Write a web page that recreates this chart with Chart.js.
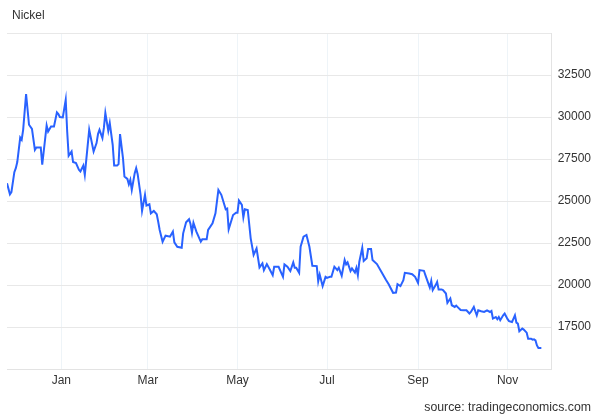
<!DOCTYPE html>
<html>
<head>
<meta charset="utf-8">
<script src="https://cdn.jsdelivr.net/npm/chart.js@4"></script>
<style>
  body { margin: 0; background: #fff; }
  #wrap { position: relative; width: 600px; height: 416px; }
  .txt { position: absolute; font: 12px "Liberation Sans", Arial, sans-serif; color: #333; white-space: nowrap; }
  #title { left: 12px; top: 8px; }
  #source { right: 9px; top: 400px; font-size: 12.3px; }
</style>
</head>
<body>
<div id="wrap">
  <canvas id="chart" width="600" height="416"></canvas>
  <div class="txt" id="title">Nickel</div>
  <div class="txt" id="source">source: tradingeconomics.com</div>
</div>
<script>
// nickel price
var dates = [
  '2022-11-25','2022-11-27','2022-11-28','2022-11-30','2022-12-01','2022-12-02','2022-12-04','2022-12-05','2022-12-06','2022-12-08',
  '2022-12-10','2022-12-12','2022-12-14','2022-12-15','2022-12-18','2022-12-19','2022-12-22','2022-12-23','2022-12-25','2022-12-27',
  '2022-12-29','2022-12-30','2022-12-31','2023-01-02','2023-01-04','2023-01-05','2023-01-06','2023-01-08','2023-01-09','2023-01-11',
  '2023-01-13','2023-01-14','2023-01-16','2023-01-17','2023-01-20','2023-01-23','2023-01-25','2023-01-26','2023-01-27','2023-01-29',
  '2023-01-30','2023-01-31','2023-02-02','2023-02-03','2023-02-05','2023-02-06','2023-02-08','2023-02-09','2023-02-10','2023-02-12',
  '2023-02-13','2023-02-15','2023-02-16','2023-02-17','2023-02-18','2023-02-20','2023-02-21','2023-02-22','2023-02-24','2023-02-25',
  '2023-02-27','2023-02-28','2023-03-02','2023-03-03','2023-03-05','2023-03-07','2023-03-08','2023-03-09','2023-03-11','2023-03-13',
  '2023-03-14','2023-03-16','2023-03-18','2023-03-19','2023-03-21','2023-03-24','2023-03-25','2023-03-27','2023-03-29','2023-03-30',
  '2023-03-31','2023-04-01','2023-04-03','2023-04-06','2023-04-07','2023-04-10','2023-04-11','2023-04-14','2023-04-16','2023-04-18',
  '2023-04-20','2023-04-23','2023-04-24','2023-04-25','2023-04-28','2023-04-30','2023-05-01','2023-05-02','2023-05-04','2023-05-05',
  '2023-05-06','2023-05-08','2023-05-10','2023-05-12','2023-05-14','2023-05-16','2023-05-18','2023-05-19','2023-05-21','2023-05-23',
  '2023-05-25','2023-05-26','2023-05-29','2023-06-01','2023-06-02','2023-06-04','2023-06-06','2023-06-08','2023-06-09','2023-06-10',
  '2023-06-12','2023-06-13','2023-06-15','2023-06-17','2023-06-19','2023-06-21','2023-06-24','2023-06-25','2023-06-26','2023-06-28',
  '2023-06-30','2023-07-01','2023-07-03','2023-07-04','2023-07-06','2023-07-07','2023-07-08','2023-07-09','2023-07-11','2023-07-13',
  '2023-07-14','2023-07-15','2023-07-17','2023-07-18','2023-07-20','2023-07-21','2023-07-22','2023-07-23','2023-07-25','2023-07-26',
  '2023-07-28','2023-07-29','2023-07-31','2023-08-01','2023-08-04','2023-08-07','2023-08-10','2023-08-12','2023-08-15','2023-08-17',
  '2023-08-18','2023-08-20','2023-08-22','2023-08-23','2023-08-26','2023-08-28','2023-08-30','2023-09-01','2023-09-02','2023-09-05',
  '2023-09-06','2023-09-08','2023-09-09','2023-09-10','2023-09-11','2023-09-13','2023-09-14','2023-09-15','2023-09-17','2023-09-18',
  '2023-09-20','2023-09-21','2023-09-23','2023-09-24','2023-09-26','2023-09-27','2023-09-29','2023-09-30','2023-10-02','2023-10-04',
  '2023-10-06','2023-10-07','2023-10-09','2023-10-10','2023-10-11','2023-10-12','2023-10-14','2023-10-16','2023-10-18','2023-10-20',
  '2023-10-21','2023-10-22','2023-10-24','2023-10-25','2023-10-26','2023-10-27','2023-10-29','2023-10-30','2023-11-01','2023-11-02',
  '2023-11-04','2023-11-06','2023-11-07','2023-11-08','2023-11-09','2023-11-11','2023-11-12','2023-11-14','2023-11-15','2023-11-17',
  '2023-11-18','2023-11-19','2023-11-20','2023-11-21','2023-11-22','2023-11-24'
];
var prices = [
  26060,25400,25530,26720,26960,27320,28780,28650,29240,31370,
  29540,29290,28050,28190,28190,27160,29500,29140,29440,29440,
  30280,30180,30000,29980,31030,29140,27690,27950,27320,27260,
  26860,26760,27110,26560,29240,27950,28450,28990,29240,28750,
  29350,30240,29180,29640,28350,27110,27110,27200,28990,27560,
  26460,26320,26000,26260,25660,26660,26960,26600,25370,24410,
  25370,24730,24810,24270,24410,24210,23770,23280,22580,22940,
  22920,22880,23180,22540,22280,22220,23080,23740,23920,23630,
  23120,23710,23180,22580,22720,22720,23280,23680,24270,25660,
  25370,24510,24550,23320,24170,24310,24310,25030,24770,24030,
  24510,24470,22780,21790,22180,21050,21290,20890,21250,20930,
  20590,21090,21090,20490,21230,21090,20830,21350,21030,21030,
  20730,22280,22880,22980,22280,21150,21130,20230,20630,19940,
  20490,20430,20490,20490,21090,20990,20890,21030,20550,21490,
  21230,21350,20830,20990,20750,21030,20590,21390,22220,21430,
  21590,22140,22140,21490,21250,20790,20330,20050,19540,19560,
  20050,19940,20290,20730,20690,20650,20490,20130,20890,20850,
  20590,20100,19860,20250,19700,20000,20190,19740,19740,19700,
  19500,18940,19200,18800,18700,18780,18600,18520,18500,18500,
  18310,18400,18700,18440,18200,18500,18440,18400,18500,18400,
  18460,18010,18100,17970,18100,17910,18200,18310,17970,17850,
  17800,18200,17770,17710,17250,17410,17350,17170,16810,16810,
  16750,16770,16710,16410,16250,16250
];
var tickDates = ['2023-01-01', '2023-03-01', '2023-05-01', '2023-07-01', '2023-09-01', '2023-11-01'];
var tickLabels = ['Jan', 'Mar', 'May', 'Jul', 'Sep', 'Nov'];
var axisEnd = '2023-12-01';

function dayNum(s) {
  var p = s.split('-');
  return (Date.UTC(+p[0], p[1] - 1, +p[2]) - Date.UTC(2023, 0, 1)) / 86400000;
}

var points = dates.map(function(d, i) { return {x: dayNum(d), y: prices[i]}; });
var font = {family: '"Liberation Sans", Arial, sans-serif', size: 12};

new Chart(document.getElementById('chart'), {
  type: 'line',
  data: {
    datasets: [{
      data: points,
      borderColor: '#2962ff',
      borderWidth: 2,
      pointRadius: 0,
      tension: 0,
      fill: false
    }]
  },
  options: {
    responsive: false,
    animation: false,
    layout: {padding: {left: 7, right: 3, top: 33, bottom: 24.5}},
    plugins: {legend: {display: false}, tooltip: {enabled: false}},
    scales: {
      x: {
        type: 'linear',
        min: dayNum(dates[0]),
        max: dayNum(axisEnd),
        afterBuildTicks: function(axis) {
          axis.ticks = tickDates.map(function(d) { return {value: dayNum(d)}; });
        },
        ticks: {
          autoSkip: false,
          maxRotation: 0,
          padding: 4,
          color: '#333',
          font: font,
          callback: function(v, i) { return tickLabels[i]; }
        },
        grid: {color: '#eef4f8', drawTicks: false},
        border: {color: '#e3e3e3'}
      },
      y: {
        position: 'right',
        min: 15000,
        max: 35000,
        ticks: {
          stepSize: 2500,
          padding: 6,
          color: '#333',
          font: font,
          callback: function(v) { return (v < 17500 || v > 32500) ? '' : String(v); }
        },
        grid: {color: '#e8e8e8', drawTicks: false},
        border: {color: '#e3e3e3'}
      }
    }
  }
});
</script>
</body>
</html>
